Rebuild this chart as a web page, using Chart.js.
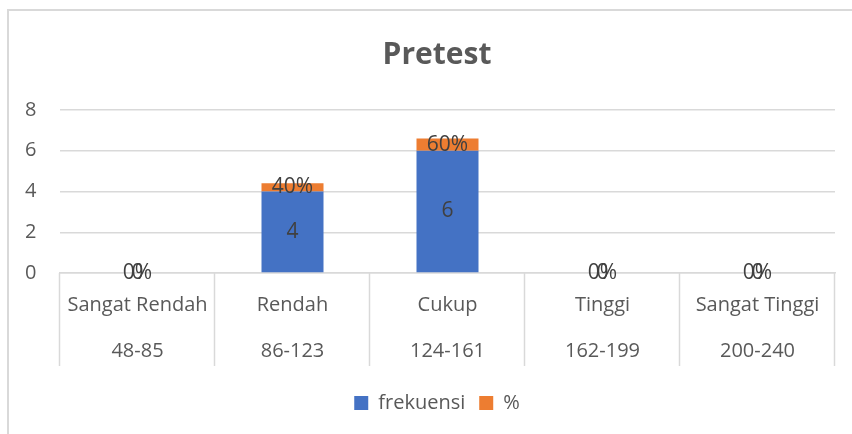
<!DOCTYPE html>
<html>
<head>
<meta charset="utf-8">
<script src="https://cdn.jsdelivr.net/npm/chart.js@4.4.1/dist/chart.umd.min.js"></script>
<style>
    body { margin: 0; background: #fff; }
    #frame {
        position: absolute;
        left: 7px;
        top: 9px;
        width: 845px;
        height: 425px;
        border-left: 2px solid #d9d9d9;
        border-top: 2px solid #d9d9d9;
    }
    #wrap { position: absolute; left: 0; top: 0; width: 843px; height: 423px; }
</style>
</head>
<body>
<div id="frame">
    <div id="wrap"><canvas id="pretestChart"></canvas></div>
</div>
<script>
// DATA
const kategori = ["Sangat Rendah", "Rendah", "Cukup", "Tinggi", "Sangat Tinggi"];
const rentang = ["48-85", "86-123", "124-161", "162-199", "200-240"];
const frekuensi = [0, 4, 6, 0, 0];
const persen = [0, 0.4, 0.6, 0, 0];
const yTicks = [0, 2, 4, 6, 8];

const FONT = "'Open Sans', 'Noto Sans', sans-serif";
const TEXT = "#595959";

// LABELS IN THE MIDDLE OF EACH SEGMENT
const dataLabelPlugin = {
    id: "dataLabelPlugin",
    afterDatasetsDraw(chart) {
        const ctx = chart.ctx;
        ctx.save();
        ctx.font = "21px " + FONT;
        ctx.fillStyle = "#404040";
        ctx.textAlign = "center";
        ctx.textBaseline = "middle";
        chart.data.datasets.forEach((ds, i) => {
            const meta = chart.getDatasetMeta(i);
            meta.data.forEach((bar, j) => {
                const p = bar.getProps(["x", "y", "base"], true);
                const v = ds.data[j];
                const txt = i === 0 ? String(v) : Math.round(v * 100) + "%";
                ctx.fillText(txt, p.x, (p.y + p.base) / 2);
            });
        });
        ctx.restore();
    }
};

// CATEGORY SEPARATORS BELOW THE AXIS
const separatorPlugin = {
    id: "separatorPlugin",
    afterDraw(chart) {
        const x = chart.scales.x;
        const ctx = chart.ctx;
        const step = (x.right - x.left) / kategori.length;
        ctx.save();
        ctx.strokeStyle = "#d9d9d9";
        ctx.lineWidth = 1.5;
        for (let i = 0; i <= kategori.length; i++) {
            const px = Math.round(x.left + i * step) - 0.5;
            ctx.beginPath();
            ctx.moveTo(px, x.top);
            ctx.lineTo(px, x.top + 93);
            ctx.stroke();
        }
        ctx.restore();
    }
};

new Chart(document.getElementById("pretestChart"), {
    type: "bar",
    data: {
        labels: kategori.map((k, i) => [k, rentang[i]]),
        datasets: [
            {
                label: "frekuensi",
                data: frekuensi,
                backgroundColor: "#4472C4",
                barPercentage: 0.4,
                categoryPercentage: 1
            },
            {
                label: "%",
                data: persen,
                backgroundColor: "#ED7D31",
                barPercentage: 0.4,
                categoryPercentage: 1
            }
        ]
    },
    options: {
        responsive: true,
        maintainAspectRatio: false,
        animation: false,
        layout: { padding: { left: 30, right: 17, top: 0, bottom: 11 } },
        plugins: {
            title: {
                display: true,
                text: "Pretest",
                color: TEXT,
                font: { family: FONT, size: 30, weight: "bold" },
                padding: { top: 26, bottom: 37 }
            },
            legend: {
                position: "bottom",
                labels: {
                    color: TEXT,
                    font: { family: FONT, size: 20 },
                    boxWidth: 14,
                    boxHeight: 14,
                    padding: 14
                }
            },
            tooltip: { enabled: false }
        },
        scales: {
            x: {
                stacked: true,
                grid: { display: false },
                border: { display: true, color: "#d9d9d9", width: 1.5 },
                ticks: {
                    color: TEXT,
                    font: { family: FONT, size: 20, lineHeight: "46px" },
                    padding: 1,
                    maxRotation: 0,
                    autoSkip: false
                },
                afterFit(scale) { scale.height = 106; }
            },
            y: {
                stacked: true,
                min: 0,
                max: 8,
                afterBuildTicks(scale) {
                    scale.ticks = yTicks.map(v => ({ value: v }));
                },
                grid: { color: "#d9d9d9", lineWidth: 1.5, drawTicks: false },
                border: { display: false },
                ticks: {
                    color: TEXT,
                    font: { family: FONT, size: 20 },
                    mirror: true,
                    padding: -35
                },
                afterFit(scale) { scale.width = 21; }
            }
        }
    },
    plugins: [dataLabelPlugin, separatorPlugin]
});
</script>
</body>
</html>
